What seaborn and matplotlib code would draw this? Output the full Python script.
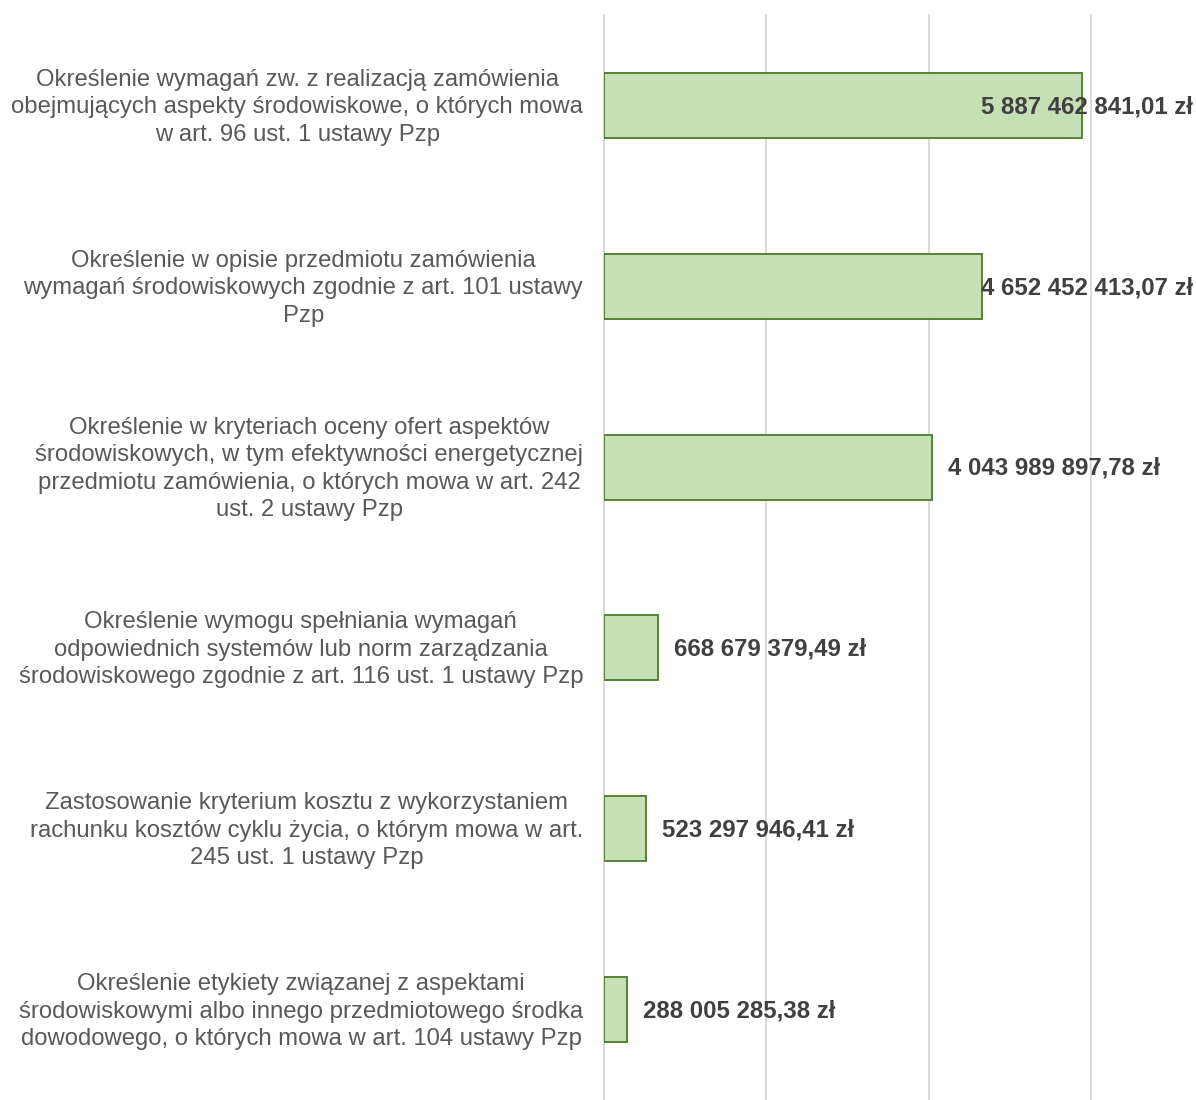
import matplotlib
matplotlib.use("Agg")
import matplotlib.pyplot as plt
import matplotlib.transforms as mtransforms
import seaborn as sns
import pandas as pd

categories = [
    "Określenie wymagań zw. z realizacją zamówienia\nobejmujących aspekty środowiskowe, o których mowa\nw art. 96 ust. 1 ustawy Pzp",
    "Określenie w opisie przedmiotu zamówienia\nwymagań środowiskowych zgodnie z art. 101 ustawy\nPzp",
    "Określenie w kryteriach oceny ofert aspektów\nśrodowiskowych, w tym efektywności energetycznej\nprzedmiotu zamówienia, o których mowa w art. 242\nust. 2 ustawy Pzp",
    "Określenie wymogu spełniania wymagań\nodpowiednich systemów lub norm zarządzania\nśrodowiskowego zgodnie z art. 116 ust. 1 ustawy Pzp",
    "Zastosowanie kryterium kosztu z wykorzystaniem\nrachunku kosztów cyklu życia, o którym mowa w art.\n245 ust. 1 ustawy Pzp",
    "Określenie etykiety związanej z aspektami\nśrodowiskowymi albo innego przedmiotowego środka\ndowodowego, o których mowa w art. 104 ustawy Pzp",
]
values = [
    5887462841.01,
    4652452413.07,
    4043989897.78,
    668679379.49,
    523297946.41,
    288005285.38,
]
value_labels = [
    "5 887 462 841,01 zł",
    "4 652 452 413,07 zł",
    "4 043 989 897,78 zł",
    "668 679 379,49 zł",
    "523 297 946,41 zł",
    "288 005 285,38 zł",
]

sns.set_theme(style="white")
plt.rcParams["font.family"] = ["Liberation Sans", "DejaVu Sans"]

df = pd.DataFrame({"kategoria": categories, "wartosc": values})

W, H = 1196, 1100
fig = plt.figure(figsize=(W / 100, H / 100), dpi=100)
ax = fig.add_axes([604 / W, 0.0, (1091 - 604) / W, (1100 - 15) / H])

sns.barplot(data=df, x="wartosc", y="kategoria", orient="h", ax=ax,
            color="#c5e0b4", edgecolor="#548235", linewidth=1.4,
            width=0.36, saturation=1)

ax.set_xlim(0, 6e9)
ax.set_ylim(5.5, -0.5)
ax.set_xticks([0, 2e9, 4e9, 6e9])
ax.set_xticklabels([])
ax.grid(axis="x", color="#d9d9d9", linewidth=1.4)
for gl in ax.get_xgridlines():
    gl.set_clip_on(False)
ax.set_axisbelow(True)
for s in ax.spines.values():
    s.set_visible(False)
ax.set_xlabel("")
ax.set_ylabel("")
ax.tick_params(axis="y", length=0, pad=15, labelsize=17.2, labelcolor="#595959")
ax.tick_params(axis="x", length=0)
nudge = mtransforms.ScaledTranslation(0, -2 / 100, fig.dpi_scale_trans)
for lbl in ax.get_yticklabels():
    lbl.set_multialignment("center")
    lbl.set_linespacing(1.32)
    lbl.set_verticalalignment("center")
    lbl.set_transform(lbl.get_transform() + nudge)

# value labels just past each bar end, kept inside the figure
texts = []
for i, (v, t) in enumerate(zip(values, value_labels)):
    txt = ax.annotate(t, xy=(v, i), xytext=(11.5, -1), textcoords="offset points",
                      ha="left", va="center", fontsize=17.3, fontweight="bold",
                      color="#404040", annotation_clip=False)
    texts.append(txt)

fig.canvas.draw()
renderer = fig.canvas.get_renderer()
for txt in texts:
    bb = txt.get_window_extent(renderer)
    limit = W - 3
    if bb.x1 > limit:
        shift = (bb.x1 - limit) * 72 / fig.dpi
        ox, oy = txt.xyann
        txt.xyann = (ox - shift, oy)

fig.savefig("out.png", dpi=100)
